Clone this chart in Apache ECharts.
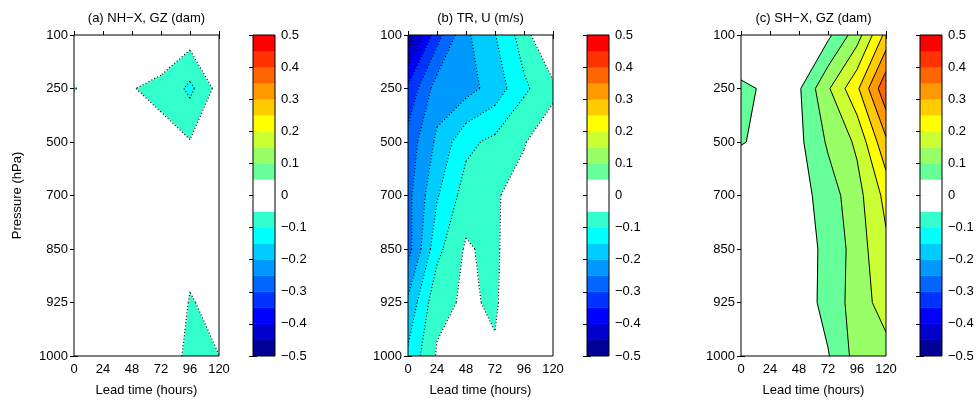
<!DOCTYPE html>
<html><head><meta charset="utf-8">
<script src="https://cdn.jsdelivr.net/npm/echarts@6/dist/echarts.min.js"></script>
<style>html,body{margin:0;padding:0;background:#fff}#c{width:979px;height:400px}</style>
</head><body><div id="c"></div>
<script>
// ---------------- data ----------------
const leadTimes = [0, 24, 48, 72, 96, 120];
const pressureLevels = ['100', '250', '500', '700', '850', '925', '1000'];
const contourLevels = [-0.5, -0.45, -0.4, -0.35, -0.3, -0.25, -0.2, -0.15, -0.1, -0.05, 0,
                       0.05, 0.1, 0.15, 0.2, 0.25, 0.3, 0.35, 0.4, 0.45, 0.5];
const lineLevels = [-0.45, -0.4, -0.35, -0.3, -0.25, -0.2, -0.15, -0.1, -0.05,
                    0.05, 0.1, 0.15, 0.2, 0.25, 0.3, 0.35, 0.4, 0.45];
const colorbarTicks = [-0.5, -0.4, -0.3, -0.2, -0.1, 0, 0.1, 0.2, 0.3, 0.4, 0.5];
const panelTitles = ['(a) NH\u2212X, GZ (dam)', '(b) TR, U (m/s)', '(c) SH\u2212X, GZ (dam)'];

// rows: pressure levels (100 ... 1000); columns: lead times (0 ... 120)
const nhxGZ = [
  [0.01, 0.0, -0.02, -0.035, -0.026, -0.02],
  [-0.053, -0.02, -0.0492, -0.055, -0.112, -0.032],
  [0.0, -0.01, -0.03, -0.0436, -0.047, -0.03],
  [0.01, 0.0, -0.01, -0.02, -0.02, -0.01],
  [0.01, 0.0, -0.01, -0.02, -0.042, -0.03],
  [0.0, 0.0, -0.01, -0.02, -0.052, -0.0415],
  [0.0, 0.0, -0.01, -0.024, -0.06, -0.0502]
];
const trU = [
  [-0.492, -0.32, -0.21, -0.152, -0.076, 0.03],
  [-0.34, -0.226, -0.219, -0.179, -0.109, -0.065],
  [-0.28, -0.19, -0.113, -0.087, -0.0535, -0.0114],
  [-0.265, -0.155, -0.077, -0.055, -0.03, -0.01],
  [-0.27, -0.115, -0.043, -0.066, 0.03, -0.01],
  [-0.19, -0.063, -0.0435, -0.056, -0.005, -0.01],
  [-0.14, -0.045, -0.03, -0.045, -0.02, -0.01]
];
const shxGZ = [
  [-0.0025, 0.01, 0.02, 0.0385, 0.127, 0.265],
  [0.06, 0.041, 0.0437, 0.1435, 0.24, 0.39],
  [0.052, 0.041, 0.0386, 0.107, 0.159, 0.29],
  [0.019, 0.02, 0.0288, 0.0751, 0.132, 0.215],
  [0.01, 0.015, 0.0375, 0.0567, 0.126, 0.19],
  [0.005, 0.01, 0.0184, 0.069, 0.122, 0.175],
  [0.0, 0.01, 0.02, 0.0464, 0.119, 0.13]
];
const panelData = [nhxGZ, trU, shxGZ];

// ---------------- styles / layout ----------------
const bandColors = ['#000099', '#0000CC', '#0000FF', '#0033FF', '#0066FF', '#0099FF', '#00CCFF', '#00FFFF', '#33FFCC', '#FFFFFF',
                    '#FFFFFF', '#66FF99', '#99FF66', '#CCFF33', '#FFFF00', '#FFCC00', '#FF9900', '#FF6600', '#FF3300', '#FF0000'];
const FONT = '"Liberation Sans", Arial, Helvetica, sans-serif';
const panelLeft = [74, 408, 741];
const cbLeft = [253, 587, 920];
const plotTop = 35, plotH = 321, plotW = 145, cbW = 22;

function clipPoly(pts, c, keepAbove) {
  const out = [];
  for (let i = 0; i < pts.length; i++) {
    const a = pts[i], b = pts[(i + 1) % pts.length];
    const ina = keepAbove ? a.z >= c : a.z <= c;
    const inb = keepAbove ? b.z >= c : b.z <= c;
    if (ina) out.push(a);
    if (ina !== inb) {
      const f = (c - a.z) / (b.z - a.z);
      out.push({x: a.x + f * (b.x - a.x), y: a.y + f * (b.y - a.y), z: c});
    }
  }
  return out;
}
function cellPts(api, Z) {
  const j = api.value(0), i = api.value(1);
  return [[j, i], [j + 1, i], [j + 1, i + 1], [j, i + 1]].map(([jj, ii]) => {
    const c = api.coord([leadTimes[jj], ii]);
    return {x: c[0], y: c[1], z: Z[ii][jj]};
  });
}
function fillRenderer(Z) {
  return function (params, api) {
    const pts = cellPts(api, Z);
    const children = [];
    for (let b = 0; b < bandColors.length; b++) {
      const lo = b === 0 ? -Infinity : contourLevels[b];
      const hi = b === bandColors.length - 1 ? Infinity : contourLevels[b + 1];
      let poly = clipPoly(pts, lo, true);
      if (poly.length < 3) continue;
      poly = clipPoly(poly, hi, false);
      if (poly.length < 3) continue;
      children.push({type: 'polygon', silent: true,
        shape: {points: poly.map(p => [p.x, p.y])},
        style: {fill: bandColors[b], stroke: bandColors[b], lineWidth: 0.8}});
    }
    return {type: 'group', children};
  };
}
function lineRenderer(Z) {
  return function (params, api) {
    const pts = cellPts(api, Z);
    const center = (pts[0].z + pts[1].z + pts[2].z + pts[3].z) / 4;
    const children = [];
    lineLevels.forEach(c => {
      const cr = [];
      for (let e = 0; e < 4; e++) {
        const a = pts[e], b = pts[(e + 1) % 4];
        if ((a.z < c) !== (b.z < c)) {
          const f = (c - a.z) / (b.z - a.z);
          cr.push({x: a.x + f * (b.x - a.x), y: a.y + f * (b.y - a.y)});
        }
      }
      let pairs = [];
      if (cr.length === 2) pairs = [[cr[0], cr[1]]];
      else if (cr.length === 4) {
        if ((pts[0].z >= c) === (center >= c)) pairs = [[cr[0], cr[1]], [cr[2], cr[3]]];
        else pairs = [[cr[3], cr[0]], [cr[1], cr[2]]];
      }
      pairs.forEach(([p, q]) => children.push({type: 'line', silent: true,
        shape: {x1: p.x, y1: p.y, x2: q.x, y2: q.y},
        style: c < 0 ? {stroke: '#000', lineWidth: 1.1, lineDash: [1.1, 2.2]} : {stroke: '#000', lineWidth: 1}}));
    });
    return {type: 'group', children};
  };
}

const cells = [];
for (let i = 0; i < pressureLevels.length - 1; i++)
  for (let j = 0; j < leadTimes.length - 1; j++) cells.push([j, i]);
const bandItems = bandColors.map((c, b) => [0.5, (contourLevels[b] + contourLevels[b + 1]) / 2, b]);

const txt = {color: '#000', fontSize: 13, fontFamily: FONT};
const grids = [], xAxes = [], yAxes = [], series = [], graphics = [];
panelData.forEach((Z, k) => {
  const g = grids.length;
  grids.push({left: panelLeft[k], top: plotTop, width: plotW, height: plotH, show: true,
    backgroundColor: 'transparent', borderColor: '#000', borderWidth: 1, z: 10, outerBoundsMode: 'none'});
  grids.push({left: cbLeft[k], top: plotTop, width: cbW, height: plotH, show: true,
    backgroundColor: 'transparent', borderColor: '#000', borderWidth: 1, z: 10, outerBoundsMode: 'none'});
  const xb = xAxes.length;
  const tickStyle = {show: true, inside: true, length: 4, lineStyle: {color: '#000', width: 1}};
  xAxes.push({gridIndex: g, type: 'value', min: 0, max: 120, interval: 24, position: 'bottom',
    axisLine: {show: false}, axisTick: tickStyle, splitLine: {show: false},
    axisLabel: Object.assign({margin: 7}, txt),
    name: 'Lead time (hours)', nameLocation: 'middle', nameGap: 28, nameMoveOverlap: false, nameTextStyle: txt});
  xAxes.push({gridIndex: g, type: 'value', min: 0, max: 120, interval: 24, position: 'top',
    axisLine: {show: false}, axisTick: tickStyle, splitLine: {show: false}, axisLabel: {show: false}});
  xAxes.push({gridIndex: g + 1, type: 'value', min: 0, max: 1, show: false});
  const yb = yAxes.length;
  yAxes.push(Object.assign({gridIndex: g, type: 'value', min: 0, max: 6, interval: 1, inverse: true, position: 'left',
    axisLine: {show: false}, axisTick: tickStyle, splitLine: {show: false},
    axisLabel: Object.assign({margin: 6, formatter: v => pressureLevels[v]}, txt)},
    k === 0 ? {name: 'Pressure (hPa)', nameLocation: 'middle', nameRotate: 90, nameGap: 50, nameMoveOverlap: false, nameTextStyle: txt} : {}));
  yAxes.push({gridIndex: g, type: 'value', min: 0, max: 6, interval: 1, inverse: true, position: 'right',
    axisLine: {show: false}, axisTick: tickStyle, splitLine: {show: false}, axisLabel: {show: false}});
  yAxes.push({gridIndex: g + 1, type: 'value', min: -0.5, max: 0.5, interval: 0.1, position: 'right',
    axisLine: {show: false}, axisTick: tickStyle, splitLine: {show: false},
    axisLabel: Object.assign({margin: 6, formatter: v => { const r = Math.round(v * 10) / 10; return r < 0 ? '\u2212' + Math.abs(r) : String(r); }}, txt)});
  yAxes.push({gridIndex: g + 1, type: 'value', min: -0.5, max: 0.5, interval: 0.1, position: 'left',
    axisLine: {show: false}, axisTick: tickStyle, splitLine: {show: false}, axisLabel: {show: false}});

  series.push({type: 'custom', coordinateSystem: 'cartesian2d', xAxisIndex: xb, yAxisIndex: yb,
    data: cells, clip: true, silent: true, z: 2, renderItem: fillRenderer(Z)});
  series.push({type: 'custom', coordinateSystem: 'cartesian2d', xAxisIndex: xb, yAxisIndex: yb,
    data: cells, clip: true, silent: true, z: 3, renderItem: lineRenderer(Z)});
  series.push({type: 'custom', coordinateSystem: 'cartesian2d', xAxisIndex: xb + 2, yAxisIndex: yb + 2,
    data: bandItems, clip: true, silent: true, z: 2, renderItem: (params, api) => {
      const b = api.value(2);
      const p1 = api.coord([0, contourLevels[b + 1]]), p2 = api.coord([1, contourLevels[b]]);
      return {type: 'rect', shape: {x: p1[0], y: p1[1], width: p2[0] - p1[0], height: p2[1] - p1[1]},
        style: {fill: bandColors[b], stroke: bandColors[b], lineWidth: 0.5}};
    }});
  graphics.push({type: 'text', x: panelLeft[k] + plotW / 2, y: 18, silent: true,
    style: {text: panelTitles[k], align: 'center', verticalAlign: 'middle', textAlign: 'center', textVerticalAlign: 'middle',
      fill: '#000', fontSize: 13, fontFamily: FONT}});
});

const chart = echarts.init(document.getElementById('c'), null, {renderer: 'canvas'});
chart.setOption({
  animation: false,
  backgroundColor: '#fff',
  grid: grids, xAxis: xAxes, yAxis: yAxes, series: series, graphic: graphics
});
</script>
</body></html>
